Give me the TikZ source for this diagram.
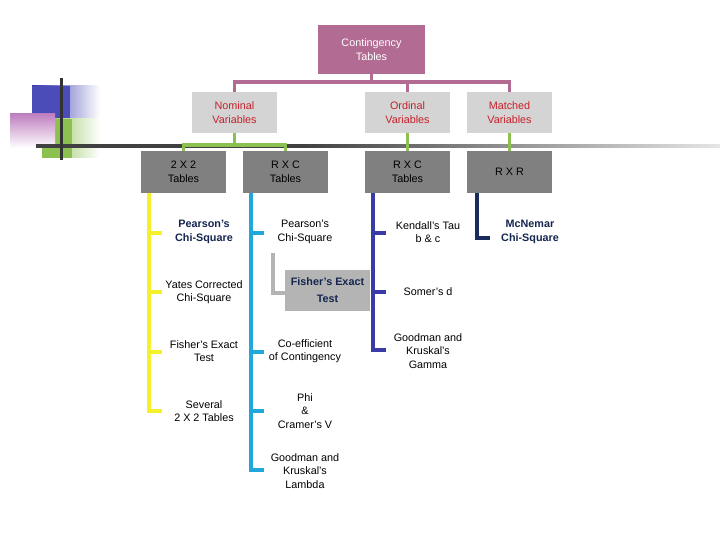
\documentclass[tikz,border=0pt]{standalone}
\usepackage{fontspec}
\setmainfont{Liberation Sans}
\begin{document}
\begin{tikzpicture}[x=1pt,y=-1pt,
  every node/.style={font=\fontsize{10.8}{13.5}\selectfont,align=center},
  top/.style={draw=none,fill=mauve,text=white,minimum width=107pt,minimum height=49pt,inner sep=0},
  var/.style={fill=lgray,text=redt,minimum width=85pt,minimum height=41pt,inner sep=0},
  tab/.style={fill=dgray,text=black,minimum width=85pt,minimum height=42pt,inner sep=0},
  leaf/.style={text=black,inner sep=1pt},
  bleaf/.style={text=navyt,font=\fontsize{10.8}{13.5}\selectfont\bfseries,inner sep=1pt},
  ln/.style={line width=3.5pt}]
\definecolor{mauve}{HTML}{B26C93}
\definecolor{lgray}{HTML}{D4D4D4}
\definecolor{dgray}{HTML}{808080}
\definecolor{redt}{HTML}{C8202A}
\definecolor{navyt}{HTML}{14254F}
\definecolor{grn}{HTML}{8CC152}
\definecolor{ylw}{HTML}{F5F02A}
\definecolor{cyn}{HTML}{1EA8DC}
\definecolor{ind}{HTML}{3A3AA8}
\definecolor{nav}{HTML}{1A2A5A}
\definecolor{fgray}{HTML}{B4B4B4}
\useasboundingbox (0,0) rectangle (720,540);
% decoration
\shade[left color=blue!60!black!80, right color=white] (32,86) rectangle (100,118);
\fill[blue!60!black!70] (32,86) rectangle (70,118);
\shade[left color=grn, right color=white] (42,119) rectangle (100,158);
\fill[grn] (42,119) rectangle (72,158);
\shade[top color=violet!50, bottom color=white] (10,114) rectangle (55,148);
\shade[left color=black!75, right color=black!75] (36,145) rectangle (300,148);
\shade[left color=black!75, right color=black!10] (300,145) rectangle (720,148);
\draw[line width=3pt,black!80] (61,78) -- (61,160);
% nodes
\node[top] (ct) at (371.5,49.5) {Contingency\\Tables};
\node[var] (nom) at (234.5,112.5) {Nominal\\Variables};
\node[var] (ord) at (407.5,112.5) {Ordinal\\Variables};
\node[var] (mat) at (509.5,112.5) {Matched\\Variables};
\node[tab] (t22) at (183.5,172) {2 X 2\\Tables};
\node[tab] (trc) at (285.5,172) {R X C\\Tables};
\node[tab] (orc) at (407.5,172) {R X C\\Tables};
\node[tab] (rxr) at (509.5,172) {R X R};
\node[bleaf] (p1) at (204,232) {Pearson's\\Chi-Square};
\node[leaf] (y1) at (204,292) {Yates Corrected\\Chi-Square};
\node[leaf] (f1) at (204,351) {Fisher's Exact\\Test};
\node[leaf] (s1) at (204,411) {Several\\2 X 2 Tables};
\node[leaf] (p2) at (305,232) {Pearson's\\Chi-Square};
\node[fill=fgray,text=navyt,font=\fontsize{10.8}{17}\selectfont\bfseries,minimum width=85pt,minimum height=41pt,inner sep=0] (f2) at (327.5,290.5) {Fisher's Exact\\Test};
\node[leaf] (c2) at (305,351) {Co-efficient\\of Contingency};
\node[leaf] (ph) at (305,411) {Phi\\\&\\Cramer's V};
\node[leaf] (gl) at (305,471) {Goodman and\\Kruskal's\\Lambda};
\node[leaf] (kt) at (428,232) {Kendall's Tau\\b \& c};
\node[leaf] (sd) at (428,292) {Somer's d};
\node[leaf] (gg) at (428,351) {Goodman and\\Kruskal's\\Gamma};
\node[bleaf] (mc) at (530,232) {McNemar\\Chi-Square};
% connectors
\draw[ln,mauve] (ct.south) -- (371.5,82);
\draw[ln,mauve] (nom.north) -- (234.5,82) -| (ord.north);
\draw[ln,mauve] (371.5,82) -| (mat.north);
\draw[ln,grn] (nom.south) -- (234.5,145);
\draw[ln,grn] (t22.north) -- (183.5,145) -- (285.5,145) -- (trc.north);
\draw[ln,grn] (ord.south) -- (orc.north);
\draw[ln,grn] (mat.south) -- (rxr.north);
\draw[ln,ylw] (149,193) -- (149,411) -- (162,411);
\foreach \y in {233,292,352} \draw[ln,ylw] (149,\y) -- (162,\y);
\draw[ln,cyn] (251,193) -- (251,470) -- (264,470);
\foreach \y in {233,352,411} \draw[ln,cyn] (251,\y) -- (264,\y);
\draw[ln,fgray] (273,253) -- (273,293) -- (f2.west |- 0,293);
\draw[ln,ind] (373,193) -- (373,350) -- (386,350);
\foreach \y in {233,292} \draw[ln,ind] (373,\y) -- (386,\y);
\draw[ln,nav] (477,193) -- (477,238) -- (490,238);
\end{tikzpicture}
\end{document}
